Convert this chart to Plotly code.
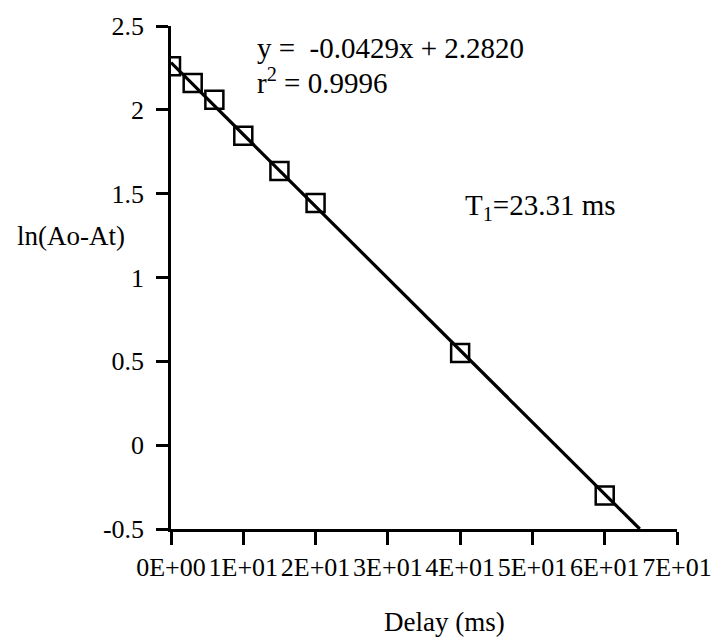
import plotly.graph_objects as go

# Inversion-recovery data: delay (ms) vs ln(Ao-At)
delay_ms = [0, 3, 6, 10, 15, 20, 40, 60]
ln_diff = [2.26, 2.16, 2.06, 1.845, 1.635, 1.445, 0.55, -0.30]

# Linear fit coefficients
slope = -0.0429
intercept = 2.2820
r_squared = 0.9996
t1_ms = 23.31

x_tick_vals = [0, 10, 20, 30, 40, 50, 60, 70]
x_tick_text = ["0E+00", "1E+01", "2E+01", "3E+01", "4E+01", "5E+01", "6E+01", "7E+01"]
y_tick_vals = [-0.5, 0, 0.5, 1, 1.5, 2, 2.5]
y_tick_text = ["-0.5", "0", "0.5", "1", "1.5", "2", "2.5"]

y_min, y_max = -0.5, 2.5
x_min, x_max = 0, 70

# Fit line runs from x=0 until it reaches the bottom of the axis
x_end = (y_min - intercept) / slope
fit_x = [0, x_end]
fit_y = [intercept + slope * v for v in fit_x]

FONT = "Liberation Serif, Times New Roman, serif"

fig = go.Figure()
fig.add_trace(go.Scatter(
    x=fit_x, y=fit_y, mode="lines",
    line=dict(color="black", width=3.2),
    showlegend=False, hoverinfo="skip",
))
fig.add_trace(go.Scatter(
    x=delay_ms, y=ln_diff, mode="markers",
    marker=dict(symbol="square-open", size=18, color="black",
                line=dict(color="black", width=2.5)),
    showlegend=False,
))

fig.update_layout(
    width=724, height=639,
    margin=dict(l=171, r=36, t=25, b=110),
    paper_bgcolor="white", plot_bgcolor="white",
    font=dict(family=FONT, size=26, color="black"),
    xaxis=dict(
        range=[x_min, x_max], tickmode="array",
        tickvals=x_tick_vals, ticktext=x_tick_text,
        showline=True, linecolor="black", linewidth=2.5,
        ticks="outside", ticklen=13, tickwidth=2.5, tickcolor="black",
        showgrid=False, zeroline=False, ticklabelstandoff=0,
        tickfont=dict(family=FONT, size=26, color="black"),
    ),
    yaxis=dict(
        range=[y_min, y_max], tickmode="array",
        tickvals=y_tick_vals, ticktext=y_tick_text,
        showline=True, linecolor="black", linewidth=2.5,
        ticks="outside", ticklen=12, tickwidth=2.5, tickcolor="black",
        showgrid=False, zeroline=False, ticklabelstandoff=7,
        tickfont=dict(family=FONT, size=26, color="black"),
    ),
)

annotations = [
    dict(text="ln(Ao-At)", xref="paper", yref="y", x=-0.3075, y=1.25,
         xanchor="left", yanchor="middle", showarrow=False,
         font=dict(family=FONT, size=27, color="black")),
    dict(text="Delay (ms)", xref="x", yref="paper", x=37.8, y=0,
         xanchor="center", yanchor="middle", yshift=-93, showarrow=False,
         font=dict(family=FONT, size=27, color="black")),
    dict(text=f"y =  {slope:.4f}x + {intercept:.4f}", xref="x", yref="y",
         x=11.6, y=2.371, xanchor="left", yanchor="middle", showarrow=False,
         font=dict(family=FONT, size=29, color="black")),
    dict(text=f"r<sup>2</sup> = {r_squared:.4f}", xref="x", yref="y",
         x=11.6, y=2.173, xanchor="left", yanchor="middle", showarrow=False,
         font=dict(family=FONT, size=29, color="black")),
    dict(text=f"T<sub>1</sub>={t1_ms:.2f} ms", xref="x", yref="y",
         x=40.35, y=1.42, xanchor="left", yanchor="middle", showarrow=False,
         font=dict(family=FONT, size=29, color="black")),
]
fig.update_layout(annotations=annotations)

fig.write_html("out.html")
